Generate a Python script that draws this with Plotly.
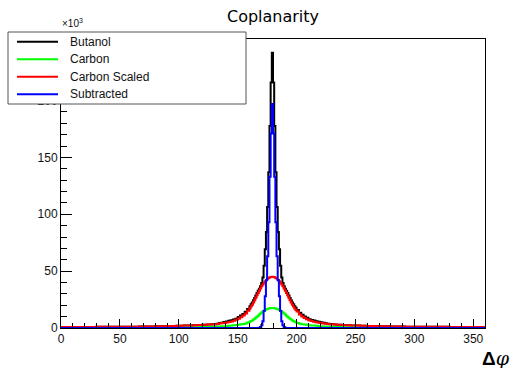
import numpy as np
import plotly.graph_objects as go

# ---------------- data (values in units of 10^3 counts) ----------------
# bin edges: 2-degree bins outside [160,200), 1-degree bins inside
edges_left = np.arange(0, 160, 2)
edges_mid = np.arange(160, 200, 1)
edges_right = np.arange(200, 362, 2)
bin_edges = np.concatenate([edges_left, edges_mid, edges_right]).astype(float)

red_left = [0.9, 0.9, 0.9, 0.9, 0.9, 0.9, 0.9, 0.9, 0.9, 0.9,
            0.9, 0.9, 0.9, 0.9, 0.9, 1.0, 1.0, 1.0, 1.0, 1.0,
            1.0, 1.0, 1.0, 1.0, 1.1, 1.1, 1.1, 1.1, 1.1, 1.2,
            1.2, 1.2, 1.2, 1.3, 1.3, 1.3, 1.3, 1.4, 1.4, 1.4,
            1.5, 1.5, 1.5, 1.6, 1.6, 1.7, 1.7, 1.8, 1.8, 1.9,
            2.0, 2.0, 2.1, 2.2, 2.2, 2.3, 2.4, 2.5, 2.6, 2.7,
            2.8, 2.9, 3.0, 3.1, 3.3, 3.4, 3.6, 3.9, 4.1, 4.4,
            4.8, 5.3, 5.8, 6.4, 7.2, 8.1, 9.4, 10.9, 12.8, 15.2]
red_mid = [17.2, 18.8, 20.5, 22.4, 24.4, 26.5, 28.7, 30.8, 32.8, 34.8,
           36.6, 38.3, 39.8, 41.2, 42.3, 43.3, 44.0, 44.6, 44.9, 45.0,
           44.9, 44.6, 44.0, 43.3, 42.3, 41.2, 39.8, 38.3, 36.6, 34.8,
           32.8, 30.8, 28.7, 26.5, 24.4, 22.4, 20.5, 18.8, 17.2, 15.8]
red_right = [14.4, 11.8, 10.1, 8.7, 7.6, 6.8, 6.1, 5.5, 5.0, 4.6,
             4.3, 4.0, 3.8, 3.5, 3.4, 3.2, 3.1, 2.9, 2.8, 2.7,
             2.6, 2.5, 2.4, 2.3, 2.2, 2.2, 2.1, 2.0, 2.0, 1.9,
             1.8, 1.8, 1.7, 1.7, 1.6, 1.6, 1.5, 1.5, 1.5, 1.4,
             1.4, 1.4, 1.3, 1.3, 1.3, 1.3, 1.2, 1.2, 1.2, 1.2,
             1.1, 1.1, 1.1, 1.1, 1.1, 1.0, 1.0, 1.0, 1.0, 1.0,
             1.0, 1.0, 1.0, 1.0, 1.0, 0.9, 0.9, 0.9, 0.9, 0.9,
             0.9, 0.9, 0.9, 0.9, 0.9, 0.9, 0.9, 0.9, 0.9, 0.9]

green_left = [0.2, 0.2, 0.2, 0.2, 0.2, 0.2, 0.2, 0.2, 0.2, 0.2,
              0.2, 0.2, 0.2, 0.2, 0.2, 0.2, 0.2, 0.2, 0.2, 0.2,
              0.3, 0.3, 0.3, 0.3, 0.3, 0.3, 0.3, 0.3, 0.3, 0.3,
              0.3, 0.3, 0.3, 0.3, 0.3, 0.3, 0.3, 0.3, 0.3, 0.3,
              0.4, 0.4, 0.4, 0.4, 0.4, 0.4, 0.4, 0.4, 0.4, 0.5,
              0.5, 0.5, 0.5, 0.5, 0.6, 0.6, 0.7, 0.7, 0.7, 0.8,
              0.9, 0.9, 1.0, 1.0, 1.1, 1.2, 1.3, 1.4, 1.5, 1.6,
              1.8, 2.0, 2.2, 2.4, 2.6, 2.9, 3.2, 3.5, 4.0, 4.9]
green_mid = [5.5, 6.1, 6.7, 7.4, 8.2, 9.0, 9.9, 10.8, 11.8, 12.7,
             13.6, 14.4, 15.2, 15.8, 16.4, 16.8, 17.2, 17.4, 17.5, 17.6,
             17.5, 17.4, 17.2, 16.8, 16.4, 15.8, 15.2, 14.4, 13.6, 12.7,
             11.8, 10.8, 9.9, 9.0, 8.2, 7.4, 6.7, 6.1, 5.5, 5.0]
green_right = [4.4, 3.8, 3.4, 3.1, 2.8, 2.5, 2.3, 2.1, 1.9, 1.7,
               1.5, 1.4, 1.3, 1.2, 1.1, 1.0, 1.0, 0.9, 0.9, 0.8,
               0.7, 0.7, 0.7, 0.6, 0.6, 0.5, 0.5, 0.5, 0.5, 0.5,
               0.4, 0.4, 0.4, 0.4, 0.4, 0.4, 0.4, 0.4, 0.4, 0.4,
               0.3, 0.3, 0.3, 0.3, 0.3, 0.3, 0.3, 0.3, 0.3, 0.3,
               0.3, 0.3, 0.3, 0.3, 0.3, 0.3, 0.3, 0.3, 0.3, 0.3,
               0.2, 0.2, 0.2, 0.2, 0.2, 0.2, 0.2, 0.2, 0.2, 0.2,
               0.2, 0.2, 0.2, 0.2, 0.2, 0.2, 0.2, 0.2, 0.2, 0.2]

blue_left = [0, 0, 0, 0, 0, 0, 0, 0, 0, 0,
             0, 0, 0, 0, 0, 0, 0, 0, 0, 0,
             0, 0, 0, 0, 0, 0, 0, 0, 0, 0,
             0, 0, 0, 0, 0, 0, 0, 0, 0, 0,
             0, 0, 0, 0, 0, 0, 0, 0, 0, 0,
             0, 0, 0, 0, 0, 0, 0, 0, 0, 0,
             0, 0, 0, 0, 0, 0, 0, 0, 0, 0,
             0, 0, 0, 0, 0, 0, 0, 0, 0, 0]
blue_mid = [0, 0, 0, 0, 0, 0, 0, 0, 0.2, 0.8,
            2.5, 6, 15, 28, 42, 63, 93, 133, 171, 197,
            171, 133, 93, 63, 42, 28, 15, 6, 2.5, 0.8,
            0.2, 0, 0, 0, 0, 0, 0, 0, 0, 0]
blue_right = [0, 0, 0, 0, 0, 0, 0, 0, 0, 0,
              0, 0, 0, 0, 0, 0, 0, 0, 0, 0,
              0, 0, 0, 0, 0, 0, 0, 0, 0, 0,
              0, 0, 0, 0, 0, 0, 0, 0, 0, 0,
              0, 0, 0, 0, 0, 0, 0, 0, 0, 0,
              0, 0, 0, 0, 0, 0, 0, 0, 0, 0,
              0, 0, 0, 0, 0, 0, 0, 0, 0, 0,
              0, 0, 0, 0, 0, 0, 0, 0, 0, 0]

black_left = [0.9, 0.9, 0.9, 0.9, 0.9, 0.9, 0.9, 0.9, 0.9, 0.9,
              0.9, 0.9, 0.9, 0.9, 0.9, 1.0, 1.0, 1.0, 1.0, 1.0,
              1.0, 1.0, 1.0, 1.0, 1.1, 1.1, 1.1, 1.1, 1.1, 1.2,
              1.2, 1.2, 1.2, 1.3, 1.3, 1.3, 1.3, 1.4, 1.4, 1.4,
              1.5, 1.5, 1.5, 1.6, 1.6, 1.7, 1.7, 1.8, 1.8, 1.9,
              2.0, 2.0, 2.1, 2.2, 2.2, 2.3, 2.4, 2.5, 2.6, 2.7,
              2.8, 2.9, 3.0, 3.1, 3.3, 3.4, 3.8, 4.3, 4.7, 5.2,
              5.8, 6.3, 6.8, 7.4, 8.2, 9.6, 10.9, 12.4, 14.3, 16.7]
black_mid = [19.2, 20.8, 22.5, 24.4, 26.4, 28.5, 30.7, 32.8, 34.5, 36.6,
             39.6, 44.3, 54.8, 69.2, 84.3, 106.3, 137.0, 177.6, 215.9, 242.0,
             215.9, 177.6, 137.0, 106.3, 84.3, 69.2, 54.8, 44.3, 39.6, 36.6,
             34.5, 32.8, 30.7, 28.5, 26.4, 24.4, 22.5, 20.8, 19.2, 17.8]
black_right = [15.9, 13.3, 11.6, 10.2, 9.1, 7.8, 7.1, 6.5, 6.0, 5.6,
               5.1, 4.6, 4.2, 3.7, 3.4, 3.2, 3.1, 2.9, 2.8, 2.7,
               2.6, 2.5, 2.4, 2.3, 2.2, 2.2, 2.1, 2.0, 2.0, 1.9,
               1.8, 1.8, 1.7, 1.7, 1.6, 1.6, 1.5, 1.5, 1.5, 1.4,
               1.4, 1.4, 1.3, 1.3, 1.3, 1.3, 1.2, 1.2, 1.2, 1.2,
               1.1, 1.1, 1.1, 1.1, 1.1, 1.0, 1.0, 1.0, 1.0, 1.0,
               1.0, 1.0, 1.0, 1.0, 1.0, 0.9, 0.9, 0.9, 0.9, 0.9,
               0.9, 0.9, 0.9, 0.9, 0.9, 0.9, 0.9, 0.9, 0.9, 0.9]

series_names = ["Butanol", "Carbon", "Carbon Scaled", "Subtracted"]
series_values = [black_left + black_mid + black_right,
                 green_left + green_mid + green_right,
                 red_left + red_mid + red_right,
                 blue_left + blue_mid + blue_right]
series_colors = ["#000000", "#00ff00", "#ff0000", "#0000ff"]

x_ticks = [0, 50, 100, 150, 200, 250, 300, 350]
y_ticks = [0, 50, 100, 150, 200, 250]

# ---------------- layout geometry (pixels) ----------------
W, H = 514, 368
L, R, T, B = 61, 29, 39, 40
PW, PH = W - L - R, H - T - B


def px(xp):
    return (xp - L) / PW


def py(yp):
    return (H - B - yp) / PH


fig = go.Figure()
for name, vals, col in zip(series_names, series_values, series_colors):
    yv = list(vals) + [vals[-1]]
    fig.add_trace(go.Scatter(x=bin_edges, y=yv, mode="lines", name=name,
                             line=dict(color=col, width=2, shape="hv"),
                             showlegend=False, hoverinfo="skip"))

axis_font = dict(family="Liberation Sans, Arial, sans-serif", size=12, color="#111")
fig.update_layout(
    width=W, height=H,
    margin=dict(l=L, r=R, t=T, b=B, pad=0),
    paper_bgcolor="white", plot_bgcolor="white",
    title=dict(text="Coplanarity", xref="container", x=273 / W, xanchor="center",
               yref="container", y=1 - 16 / H, yanchor="middle",
               font=dict(family="DejaVu Sans, sans-serif", size=16, color="#000")),
    xaxis=dict(range=[0, 360], tickvals=x_ticks, ticks="inside", ticklen=9,
               tickwidth=1, tickcolor="#000", showline=True, linecolor="#000",
               linewidth=1, mirror=True, showgrid=False, zeroline=False,
               tickfont=axis_font,
               minor=dict(dtick=10, ticks="inside", ticklen=5, tickcolor="#000",
                          showgrid=False)),
    yaxis=dict(range=[0, 254.1], tickvals=y_ticks, ticks="inside", ticklen=11,
               tickwidth=1, tickcolor="#000", showline=True, linecolor="#000",
               linewidth=1, mirror=True, showgrid=False, zeroline=False,
               tickfont=axis_font,
               minor=dict(dtick=10, ticks="inside", ticklen=6, tickcolor="#000",
                          showgrid=False)),
)

# legend box drawn as shapes + text annotations (ROOT TLegend look)
shapes = [dict(type="rect", xref="paper", yref="paper",
               x0=px(8), x1=px(246), y0=py(104), y1=py(32),
               fillcolor="white", line=dict(color="#555", width=1), layer="above")]
entry_y = [41.7, 59.3, 76.7, 94.3]
annotations = [dict(text="×10<sup>3</sup>", xref="paper", yref="paper",
                    x=px(60), y=py(31), xanchor="left", yanchor="bottom",
                    showarrow=False, font=dict(family="Liberation Sans, Arial", size=10, color="#111"))]
for name, col, ey in zip(series_names, series_colors, entry_y):
    shapes.append(dict(type="line", xref="paper", yref="paper",
                       x0=px(17), x1=px(58), y0=py(ey), y1=py(ey),
                       line=dict(color=col, width=2), layer="above"))
    annotations.append(dict(text=name, xref="paper", yref="paper",
                            x=px(68), y=py(ey), xanchor="left", yanchor="middle",
                            showarrow=False,
                            font=dict(family="Liberation Sans, Arial", size=12, color="#111")))
annotations.append(dict(text="<span style='font-family:Liberation Sans'><b>Δ</b></span><i>φ</i>",
                        xref="paper", yref="paper",
                        x=px(512), y=py(358), xanchor="right", yanchor="middle",
                        showarrow=False,
                        font=dict(family="DejaVu Serif, Liberation Serif", size=19, color="#000")))
fig.update_layout(shapes=shapes, annotations=annotations)

fig.write_html("out.html")
